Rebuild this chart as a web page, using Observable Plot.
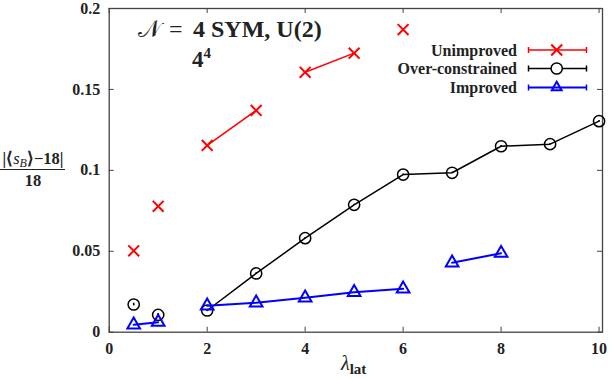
<!DOCTYPE html>
<html><head><meta charset="utf-8">
<script src="https://cdn.jsdelivr.net/npm/d3@7"></script>
<script src="https://cdn.jsdelivr.net/npm/@observablehq/plot@0.6"></script>
<style>
body{margin:0;background:#fff}
#chart{position:relative;width:615px;height:382px}
#chart svg, #chart svg text{font-family:"Liberation Serif", serif !important}
</style>
</head><body><div id="chart"></div>
<script>
// ---- data ----
const xTicks = [0, 2, 4, 6, 8, 10];
const xTickLabels = ["0", "2", "4", "6", "8", "10"];
const yTicks = [0, 0.05, 0.1, 0.15, 0.2];
const yTickLabels = ["0", "0.05", "0.1", "0.15", "0.2"];

const seriesNames = ["Unimproved", "Over-constrained", "Improved"];
const seriesColors = ["#ff0000", "#000000", "#0000ff"];

const uniX = [0.5, 1, 2, 3, 4, 5, 6];
const uniY = [0.0503, 0.0778, 0.1154, 0.1370, 0.1606, 0.1724, 0.1870];
const uniSeg = ["a", "b", "c", "c", "d", "d", "e"];

const ocX = [0.5, 1, 2, 3, 4, 5, 6, 7, 8, 9, 10];
const ocY = [0.0171, 0.0107, 0.0134, 0.0363, 0.0581, 0.0787, 0.0974, 0.0985, 0.1149, 0.1162, 0.1304];
const ocErr = [0.0008, 0.0008, 0.0004, 0.0004, 0.0004, 0.0004, 0.0004, 0.0004, 0.0004, 0.0004, 0.0004];
const ocSeg = ["a", "b", "c", "c", "c", "c", "c", "c", "c", "c", "c"];

const impX = [0.5, 1, 2, 3, 4, 5, 6, 7, 8];
const impY = [0.0046, 0.0062, 0.0163, 0.0182, 0.0213, 0.0247, 0.0268, 0.0429, 0.0488];
const impSeg = ["a", "a", "b", "b", "b", "b", "b", "c", "c"];

// ---- build tables ----
const rows = (xs, ys, seg, err) => xs.map((x, i) => ({x, y: ys[i], s: seg[i], e: err ? err[i] : 0}));
const uni = rows(uniX, uniY, uniSeg);
const oc = rows(ocX, ocY, ocSeg, ocErr);
const imp = rows(impX, impY, impSeg);

const FONT = "Liberation Serif, serif";
const mL = 108.7, mR = 13, mT = 8, mB = 50.3, W = 615, H = 382;
const plotW = W - mL - mR, plotH = H - mT - mB;
const tick = 5;

const chart = Plot.plot({
  width: W, height: H,
  marginLeft: mL, marginRight: mR, marginTop: mT, marginBottom: mB,
  style: {fontFamily: FONT, fontSize: "16px", fontWeight: "bold", color: "#222", background: "#fff", overflow: "visible"},
  x: {domain: [0, 10.07]},
  y: {domain: [0, 0.2]},
  marks: [
    // inward ticks on all four sides
    Plot.tickX(xTicks, {x: d => d, stroke: "#444", insetTop: plotH - tick}),
    Plot.tickX(xTicks, {x: d => d, stroke: "#444", insetBottom: plotH - tick}),
    Plot.tickY(yTicks, {y: d => d, stroke: "#444", insetRight: plotW - tick}),
    Plot.tickY(yTicks, {y: d => d, stroke: "#444", insetLeft: plotW - tick}),
    Plot.axisX({ticks: xTicks, tickSize: 0, tickPadding: 10, tickFormat: d => xTickLabels[xTicks.indexOf(d)], label: null, fill: "#222"}),
    Plot.axisY({ticks: yTicks, tickSize: 0, tickPadding: 9, tickFormat: d => yTickLabels[yTicks.indexOf(d)], label: null, fill: "#222"}),
    Plot.frame({stroke: "#444", strokeWidth: 1.3}),
    // Over-constrained
    Plot.line(oc, {x: "x", y: "y", z: "s", stroke: seriesColors[1], strokeWidth: 1.5}),
    Plot.ruleX(oc, {x: "x", y1: d => d.y - d.e, y2: d => d.y + d.e, stroke: seriesColors[1], strokeWidth: 1.5}),
    Plot.dot(oc, {x: "x", y: "y", r: 5.6, stroke: seriesColors[1], strokeWidth: 1.5, fill: "none"}),
    // Improved
    Plot.line(imp, {x: "x", y: "y", z: "s", stroke: seriesColors[2], strokeWidth: 2}),
    Plot.dot(imp, {x: "x", y: "y", symbol: "triangle", r: 4.7, stroke: seriesColors[2], strokeWidth: 2, fill: "none"}),
    // Unimproved
    Plot.line(uni, {x: "x", y: "y", z: "s", stroke: seriesColors[0], strokeWidth: 1.5}),
    Plot.dot(uni, {x: "x", y: "y", symbol: "times", r: 5, stroke: seriesColors[0], strokeWidth: 2})
  ]
});
document.getElementById("chart").appendChild(chart);

// ---- annotations (title, axis labels, legend) ----
const svg = d3.select(chart);
const g = svg.append("g").attr("font-family", FONT).attr("font-weight", "bold").attr("fill", "#222").attr("text-anchor", "start");

// title
const t1 = g.append("text").attr("y", 37).attr("font-size", 24);
t1.append("tspan").attr("x", 138).attr("font-weight", "normal").text("𝒩");
t1.append("tspan").attr("x", 169).attr("font-weight", "normal").text("=");
t1.append("tspan").attr("x", 193).text("4 SYM, U(2)");
const t2 = g.append("text").attr("x", 192).attr("y", 67).attr("font-size", 23);
t2.append("tspan").text("4");
t2.append("tspan").attr("font-size", 15).attr("dy", -9).text("4");

// y label as fraction
const yl = g.append("text").attr("x", 33).attr("y", 164).attr("text-anchor", "middle").attr("font-size", 16.5);
yl.append("tspan").text("|⟨");
yl.append("tspan").attr("font-style", "italic").attr("font-weight", "normal").text("s");
yl.append("tspan").attr("font-style", "italic").attr("font-weight", "normal").attr("font-size", 12).attr("dy", 3).text("B");
yl.append("tspan").attr("dy", -3).text("⟩−18|");
g.append("line").attr("x1", 0).attr("x2", 65).attr("y1", 169.5).attr("y2", 169.5).attr("stroke", "#222").attr("stroke-width", 1.2);
g.append("text").attr("x", 33).attr("y", 186).attr("text-anchor", "middle").attr("font-size", 16.5).text("18");

// x label
const xl = g.append("text").attr("x", 341).attr("y", 370).attr("font-size", 20);
xl.append("tspan").attr("font-style", "italic").attr("font-weight", "normal").text("λ");
xl.append("tspan").attr("font-size", 15).attr("dy", 4).text("lat");

// legend
const legY = [50, 68.5, 87.5];
const legSym = [d3.symbolTimes, d3.symbolCircle, d3.symbolTriangle2];
const legSize = [80, 99, 69];
seriesNames.forEach((name, i) => {
  const y = legY[i], c = seriesColors[i];
  g.append("text").attr("x", 517).attr("y", y).attr("dy", "0.35em").attr("text-anchor", "end").attr("font-size", 16).text(name);
  g.append("line").attr("x1", 528.5).attr("x2", 586.5).attr("y1", y).attr("y2", y).attr("stroke", c).attr("stroke-width", i === 2 ? 2 : 1.5);
  [528.5, 586.5].forEach(x => g.append("line").attr("x1", x).attr("x2", x).attr("y1", y - 3).attr("y2", y + 3).attr("stroke", c).attr("stroke-width", 1.5));
  g.append("path").attr("transform", `translate(556.7,${y})`).attr("d", d3.symbol(legSym[i], legSize[i])())
    .attr("fill", i === 1 ? "#fff" : "none").attr("stroke", c).attr("stroke-width", i === 1 ? 1.5 : 2);
});
</script>
</body></html>
